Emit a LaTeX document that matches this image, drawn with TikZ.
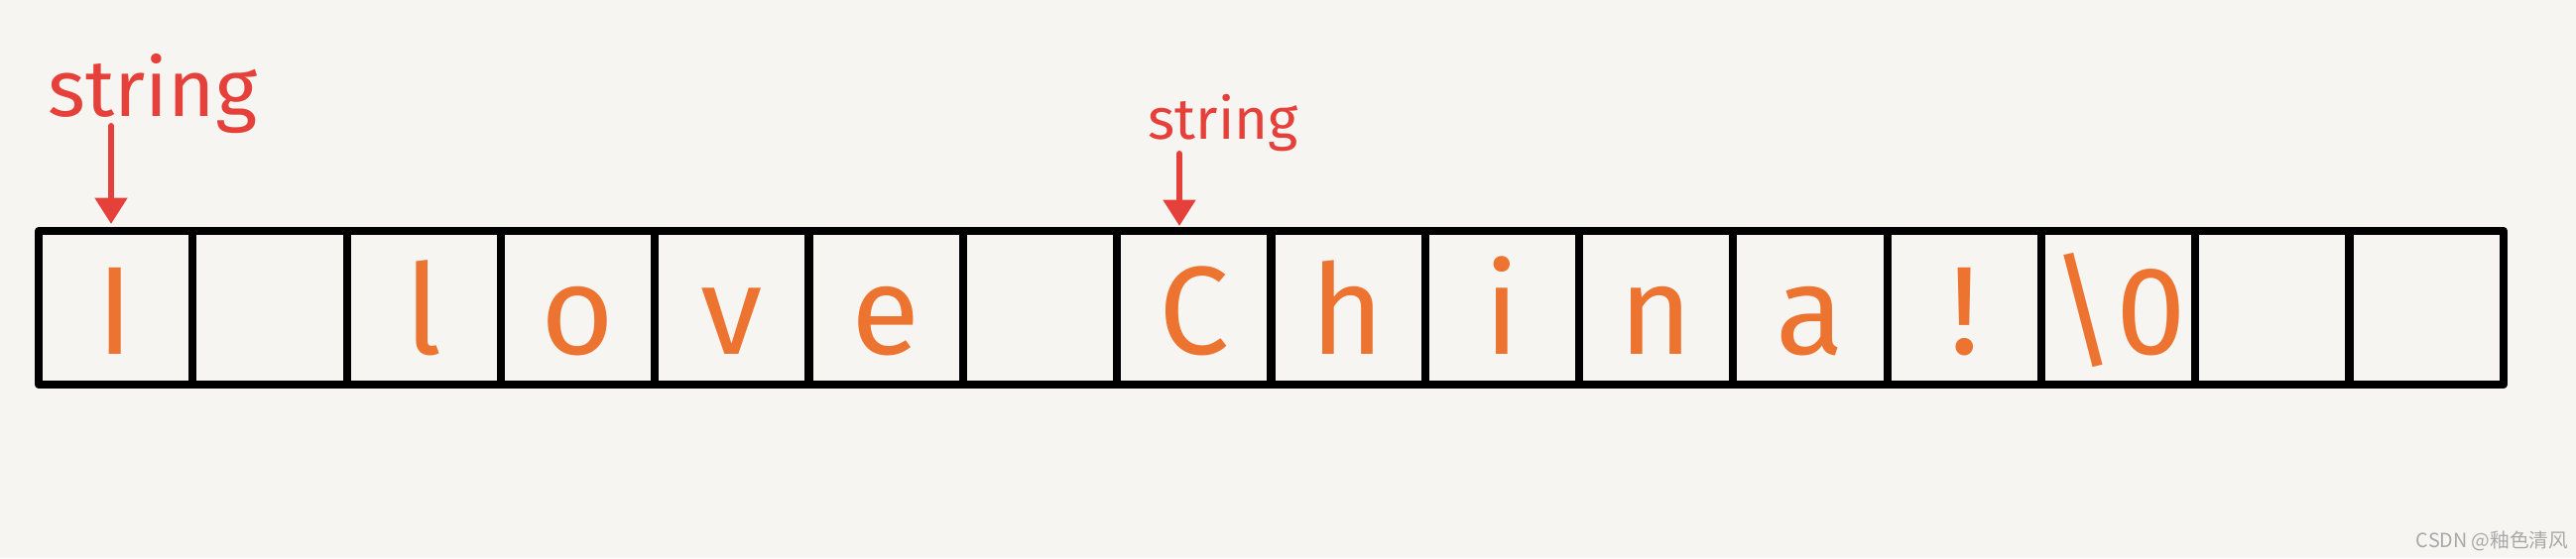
\documentclass[tikz,border=0pt]{standalone}
\usepackage{fontspec}
\setmainfont{Fira Sans}
\newfontfamily\cjkfont{Noto Sans CJK SC}
\usetikzlibrary{arrows.meta,calc}
\definecolor{bgcol}{HTML}{F7F5F1}
\definecolor{inkred}{HTML}{E5403A}
\definecolor{inkorange}{HTML}{EC7330}
\definecolor{markgray}{HTML}{A8A8A8}
\tikzset{
  cellbox/.style={draw=black, line width=2.3pt, minimum width=1.553cm, minimum height=1.55cm, inner sep=0pt, line join=round},
  letter/.style={text=inkorange, font=\fontsize{36}{40}\selectfont, anchor=base, inner sep=0pt},
  ptrtext/.style={text=inkred, anchor=base west, inner sep=0pt},
  ptrarrow/.style={draw=inkred, line width=1.7pt, line cap=round, -{Triangle[length=7.5pt, width=9pt]}}
}
\begin{document}
\begin{tikzpicture}[x=0.01cm, y=-0.01cm]
\fill[bgcol] (0,0) rectangle (2597,563);
\useasboundingbox (0,0) rectangle (2597,563);
% cells
\foreach \i in {1,...,16} {
  \node[cellbox] (c\i) at ({39+155.3*(\i-0.5)}, 310.5) {};
}
% letters
\foreach \i/\ch in {1/I,3/l,4/o,5/v,6/e,8/C,9/h,10/i,11/n,12/a,13/!,14/\textbackslash 0} {
  \node[letter] (t\i) at ($(c\i.center)+(0,47)$) {\ch};
}
% pointers
\node[ptrtext, font=\fontsize{23}{26}\selectfont] (s1) at (48,117) {string};
\coordinate (a1s) at (112,127);
\coordinate (a1e) at (112,226);
\draw[ptrarrow] (a1s) -- (a1e);
\node[ptrtext, font=\fontsize{16.5}{19}\selectfont] (s2) at (1157,140) {string};
\coordinate (a2s) at (1189,155);
\coordinate (a2e) at (1189,228);
\draw[ptrarrow] (a2s) -- (a2e);
% watermark
\node[anchor=base east, inner sep=0pt, text=markgray, font=\cjkfont\fontsize{5.6}{7}\selectfont] (wm) at (2590,552) {CSDN @釉色清风};
\end{tikzpicture}
\end{document}
